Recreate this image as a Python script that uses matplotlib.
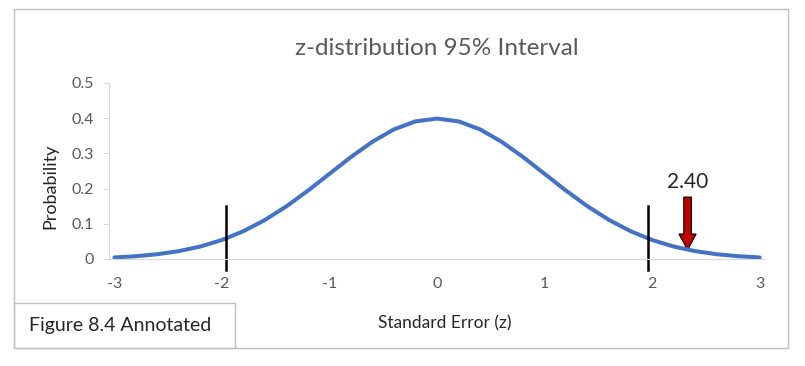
import matplotlib
matplotlib.use("Agg")
import matplotlib.pyplot as plt
from matplotlib.patches import Rectangle, FancyArrow

plt.rcParams['font.family'] = ['Lato', 'DejaVu Sans']

# data
z = [-3.0, -2.8, -2.6, -2.4, -2.2, -2.0, -1.8, -1.6, -1.4, -1.2, -1.0, -0.8, -0.6, -0.4, -0.2,
     0.0, 0.2, 0.4, 0.6, 0.8, 1.0, 1.2, 1.4, 1.6, 1.8, 2.0, 2.2, 2.4, 2.6, 2.8, 3.0]
prob = [0.0044, 0.0079, 0.0136, 0.0224, 0.0355, 0.0540, 0.0790, 0.1109, 0.1497, 0.1942,
        0.2420, 0.2897, 0.3332, 0.3683, 0.3910, 0.3989, 0.3910, 0.3683, 0.3332, 0.2897,
        0.2420, 0.1942, 0.1497, 0.1109, 0.0790, 0.0540, 0.0355, 0.0224, 0.0136, 0.0079, 0.0044]
crit_lines = [-1.96, 1.96]
crit_range = [-0.03, 0.15]
arrow_x = 2.33
arrow_top = 0.176
arrow_tip = 0.026
arrow_label = "2.40"
xticks = [-3, -2, -1, 0, 1, 2, 3]
yticks = [0, 0.1, 0.2, 0.3, 0.4, 0.5]
ytick_labels = ["0", "0.1", "0.2", "0.3", "0.4", "0.5"]

W, H = 805, 366
fig = plt.figure(figsize=(W/100, H/100), dpi=100)
fig.patch.set_facecolor('white')

# outer border
fig.add_artist(Rectangle((14/W, 1-348/H), (788-14)/W, (348-9)/H, transform=fig.transFigure,
                         fill=False, edgecolor='#BFBFBF', linewidth=1.0))
# figure label box
fig.add_artist(Rectangle((14/W, 1-348/H), (235-14)/W, (348-303)/H, transform=fig.transFigure,
                         fill=False, edgecolor='#BFBFBF', linewidth=1.0))
fig.text(29/W, 1-326/H, "Figure 8.4 Annotated", fontsize=14, color='#262626',
         ha='left', va='center')

ax = fig.add_axes([109/W, 1-259/H, 656/W, 176/H])
ax.plot(z, prob, color='#4472C4', linewidth=2.9, solid_capstyle='round', solid_joinstyle='round')
for cx in crit_lines:
    ax.plot([cx, cx], crit_range, color='black', linewidth=1.8, clip_on=False)

ax.add_patch(FancyArrow(arrow_x, arrow_top, 0, arrow_tip - arrow_top, width=0.07,
                        head_width=0.16, head_length=0.045, length_includes_head=True,
                        facecolor='#C00000', edgecolor='black', linewidth=0.8, clip_on=False))
ax.text(arrow_x, 0.22, arrow_label, fontsize=15, color='#262626', ha='center', va='center')

ax.set_xlim(-3.05, 3.05)
ax.set_ylim(0, 0.5)
ax.set_xticks(xticks)
ax.set_xticklabels([str(t) for t in xticks])
ax.set_yticks(yticks)
ax.set_yticklabels(ytick_labels)
for s in ['top', 'right']:
    ax.spines[s].set_visible(False)
ax.spines['left'].set_color('#D9D9D9')
ax.spines['bottom'].set_color('#D9D9D9')
ax.tick_params(axis='x', length=0, pad=13, labelsize=11.5, labelcolor='#595959')
ax.tick_params(axis='y', length=4, color='#D9D9D9', pad=7, labelsize=11.5, labelcolor='#595959')
ax.set_facecolor('none')

ax.set_title("z-distribution 95% Interval", fontsize=17.5, color='#595959', pad=20)
fig.text(50/W, 1-186/H, "Probability", rotation=90, fontsize=13, color='#262626',
         ha='center', va='center')
fig.text(445/W, 1-323/H, "Standard Error (z)", fontsize=12.5, color='#262626',
         ha='center', va='center')

fig.savefig('out.png', dpi=100)
